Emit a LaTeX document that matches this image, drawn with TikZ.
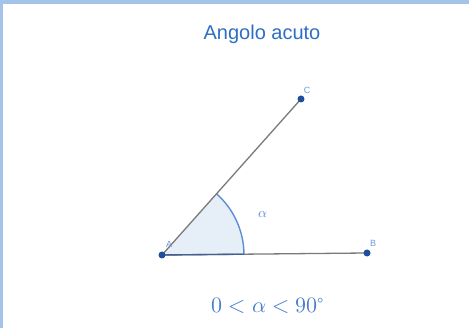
\documentclass[tikz,border=0pt]{standalone}
\usepackage{fontspec}
\setmainfont{Liberation Sans}
\usepackage{unicode-math}
\setmathfont{Latin Modern Math}
\usetikzlibrary{calc}
\definecolor{band}{HTML}{A3C4E8}
\definecolor{titleblue}{HTML}{2E6FC4}
\definecolor{lblblue}{HTML}{6A9AD8}
\definecolor{ptblue}{HTML}{1F4E9E}
\definecolor{seggray}{HTML}{7A7A7A}
\definecolor{arcblue}{HTML}{5B8FD6}
\definecolor{arcfill}{HTML}{E6EEF8}
\definecolor{formblue}{HTML}{4A7FC8}
\tikzset{
  seg/.style={draw=seggray, line width=1.3pt},
  pt/.style={circle, fill=ptblue, inner sep=0pt, minimum size=7pt},
  lbl/.style={text=lblblue, font=\fontsize{9}{10}\selectfont, inner sep=0pt}
}
\begin{document}
\begin{tikzpicture}[x=1pt,y=1pt]
\useasboundingbox (0,0) rectangle (469,328);
\fill[white] (0,0) rectangle (469,328);
\fill[band] (0,324) rectangle (469,328);
\fill[band] (0,0) rectangle (3,328);
\node[text=titleblue, font=\fontsize{20}{22}\selectfont] (title) at (262,294) {Angolo acuto};
\coordinate (A) at (162,73);
\coordinate (B) at (367,75);
\coordinate (C) at (301,229);
\fill[arcfill] (A) -- ++(0.56:82) arc[start angle=0.56, end angle=48.3, radius=82] -- cycle;
\draw[arcblue, line width=1.4pt] ($(A)+(0.56:82)$) coordinate (a1) arc[start angle=0.56, end angle=48.3, radius=82] coordinate (a2);
\draw[seg] (A) -- (B);
\draw[seg] (A) -- (C);
\draw[draw=ptblue!60!seggray, line width=1.4pt] (A) -- (a1);
\node[pt] (pA) at (A) {};
\node[pt] (pB) at (B) {};
\node[pt] (pC) at (C) {};
\node[lbl] (lA) at (169,84) {A};
\node[lbl] (lB) at (373,85) {B};
\node[lbl] (lC) at (307,238) {C};
\node[text=arcblue, font=\fontsize{14}{16}\selectfont] (alpha) at (263,114) {$\alpha$};
\node[text=formblue, font=\fontsize{22}{24}\selectfont] (form) at (268,22) {$0<\alpha<90^\circ$};
\end{tikzpicture}
\end{document}
